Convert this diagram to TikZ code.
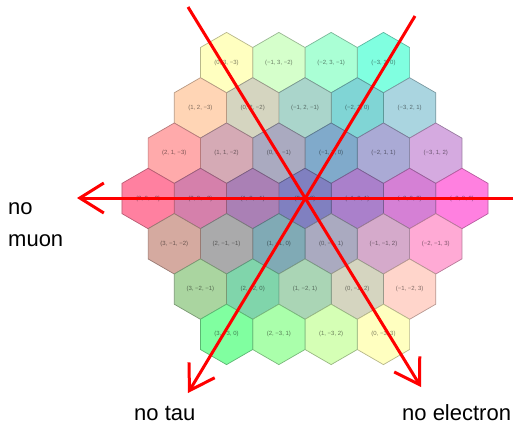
\documentclass[tikz,border=0pt]{standalone}
\usepackage{fontspec}
\setmainfont{Liberation Sans}
\usetikzlibrary{arrows.meta}

% signed integer with a true minus sign
\newcommand\signednum[1]{\ifnum#1<0 −\number\numexpr-#1\relax\else#1\fi}

\tikzset{
  hexcell/.style={line width=0.7pt, line join=miter},
  hexlabel/.style={inner sep=0pt, font=\fontsize{6}{7}\selectfont},
  axisarrow/.style={draw=red, line width=3pt,
    -{Straight Barb[length=24pt, width=30pt]}},
  axislabel/.style={inner sep=0pt, anchor=base west,
    font=\fontsize{22}{32}\selectfont, align=left},
}

\begin{document}
\begin{tikzpicture}[x=1pt, y=-1pt]
  \useasboundingbox (0,0) rectangle (514,424);
  \fill[white] (0,0) rectangle (514,424);

  % hexagonal cells with cube coordinates (x, y, z), x + y + z = 0
  \foreach \yy in {3,2,...,-3}{
    \pgfmathtruncatemacro\xlo{max(-3,-3-\yy)}
    \pgfmathtruncatemacro\xhi{min(3,3-\yy)}
    \foreach \xx in {\xlo,...,\xhi}{
      \pgfmathtruncatemacro\zz{-\xx-\yy}
      \pgfmathtruncatemacro\cr{128+round(127*abs(\zz)/3)}
      \pgfmathtruncatemacro\cg{128+round(127*abs(\yy)/3)}
      \pgfmathtruncatemacro\cb{192-round(32*\xx/3)}
      \definecolor{hexfill}{RGB}{\cr,\cg,\cb}
      \pgfmathsetmacro\cx{305+26.15*(\zz-\xx)}
      \pgfmathsetmacro\cy{198.5-45.3*\yy}
      \draw[hexcell, fill=hexfill, draw=hexfill!72!black]
        (\cx,\cy-30.2) -- (\cx+26.15,\cy-15.1) -- (\cx+26.15,\cy+15.1)
        -- (\cx,\cy+30.2) -- (\cx-26.15,\cy+15.1) -- (\cx-26.15,\cy-15.1)
        -- cycle;
      \node[hexlabel, text=hexfill!50!black] (h\xx\yy) at (\cx,\cy)
        {(\signednum{\xx}, \signednum{\yy}, \signednum{\zz})};
    }
  }

  % the three axes through the centre
  \coordinate (muonStart) at (513,198);
  \coordinate (muonTip) at (77,198);
  \coordinate (elecStart) at (188,7);
  \coordinate (elecTip) at (421,387);
  \coordinate (tauStart) at (415,16);
  \coordinate (tauTip) at (188,393);

  \draw[axisarrow] (muonStart) -- (muonTip);
  \draw[axisarrow] (elecStart) -- (elecTip);
  \draw[axisarrow] (tauStart) -- (tauTip);

  \node[axislabel] (noMuon) at (8,246) {no\\muon};
  \node[axislabel] (noTau) at (134,420) {no tau};
  \node[axislabel] (noElectron) at (402,420) {no electron};
\end{tikzpicture}
\end{document}
